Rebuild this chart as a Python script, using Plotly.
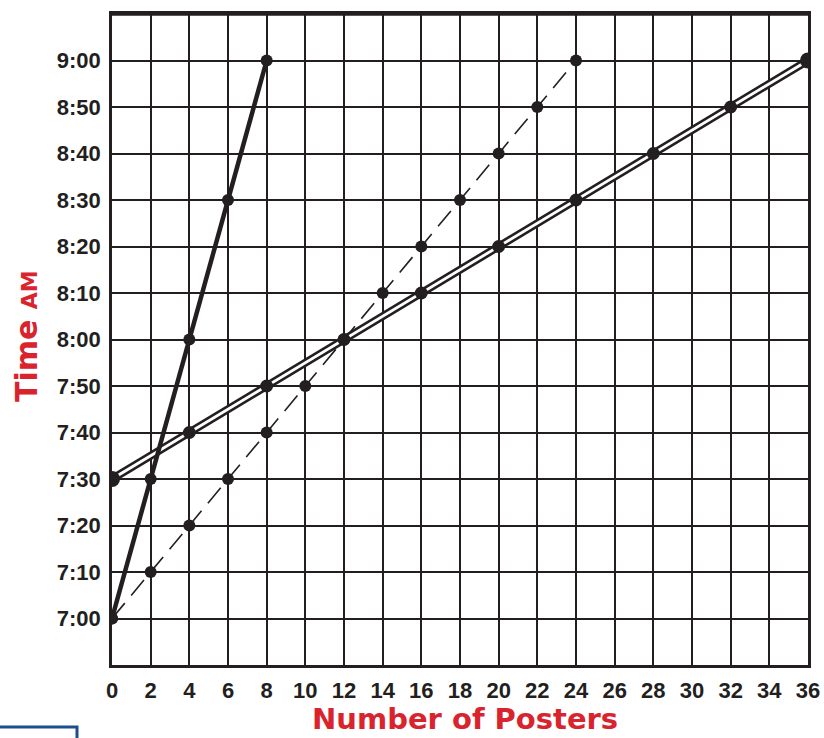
import plotly.graph_objects as go

# Data (y in minutes after 7:00 AM)
solid_x = [0, 2, 4, 6, 8]
solid_y = [0, 30, 60, 90, 120]

dash_x = [0, 2, 4, 6, 8, 10, 12, 14, 16, 18, 20, 22, 24]
dash_y = [0, 10, 20, 30, 40, 50, 60, 70, 80, 90, 100, 110, 120]

double_x = [0, 4, 8, 12, 16, 20, 24, 28, 32, 36]
double_y = [30, 40, 50, 60, 70, 80, 90, 100, 110, 120]

x_ticks = list(range(0, 37, 2))
y_tickvals = [0, 10, 20, 30, 40, 50, 60, 70, 80, 90, 100, 110, 120]
y_ticktext = ["7:00", "7:10", "7:20", "7:30", "7:40", "7:50", "8:00",
              "8:10", "8:20", "8:30", "8:40", "8:50", "9:00"]

INK = "#231f20"
RED = "#d9232d"

L, R, T, B = 112, 16, 14, 73
W, H = 824, 738
PW = W - L - R
PH = H - T - B


def px_x(px):
    return (px - L) / PW


def px_y(py):
    return (H - B - py) / PH


fig = go.Figure()

# dashed line
fig.add_trace(go.Scatter(x=dash_x, y=dash_y, mode="lines+markers",
                         line=dict(color=INK, width=1.6, dash="20px,10px"),
                         marker=dict(color=INK, size=12, line=dict(width=0)), showlegend=False))
# double line: thick black then white core
fig.add_trace(go.Scatter(x=double_x, y=double_y, mode="lines",
                         line=dict(color=INK, width=8), showlegend=False))
fig.add_trace(go.Scatter(x=double_x, y=double_y, mode="lines",
                         line=dict(color="white", width=2.8), showlegend=False))
fig.add_trace(go.Scatter(x=double_x, y=double_y, mode="markers",
                         marker=dict(color=INK, opacity=1, line=dict(width=0),
                                     size=[16, 13, 13, 13, 13, 13, 13, 13, 13, 16]),
                         showlegend=False))
# thick solid line
fig.add_trace(go.Scatter(x=solid_x, y=solid_y, mode="lines+markers",
                         line=dict(color=INK, width=4.5),
                         marker=dict(color=INK, size=12, line=dict(width=0)), showlegend=False))

fig.update_xaxes(range=[0, 36], tickvals=x_ticks, ticktext=[str(v) for v in x_ticks],
                 showgrid=True, gridcolor=INK, gridwidth=2.2, zeroline=False,
                 showline=True, linecolor=INK, linewidth=2.5, mirror=True,
                 tickfont=dict(family="Liberation Sans, Arial, sans-serif", size=22, color=INK, weight="bold"),
                 ticks="", ticklabelstandoff=4, automargin=False)
fig.update_yaxes(range=[-10, 130], tickvals=y_tickvals, ticktext=y_ticktext,
                 showgrid=True, gridcolor=INK, gridwidth=2.2, zeroline=False,
                 showline=True, linecolor=INK, linewidth=2.5, mirror=True,
                 tickfont=dict(family="Liberation Sans, Arial, sans-serif", size=22, color=INK, weight="bold"),
                 ticks="", ticklabelstandoff=4, automargin=False)

fig.add_annotation(text="Number of Posters", xref="paper", yref="paper",
                   x=px_x(465), y=px_y(719), xanchor="center", yanchor="middle",
                   showarrow=False, borderpad=0,
                   font=dict(family="DejaVu Sans, sans-serif", size=29, color=RED, weight="bold"))
fig.add_annotation(text="Time <span style='font-size:22px'>AM</span>", xref="paper", yref="paper",
                   x=px_x(26), y=px_y(336), xanchor="center", yanchor="middle",
                   textangle=-90, showarrow=False,
                   font=dict(family="DejaVu Sans, sans-serif", size=30, color=RED, weight="bold"))

# top border thicker
fig.add_shape(type="line", xref="paper", yref="paper", x0=0, x1=1, y0=1, y1=1,
              line=dict(color=INK, width=3.5))
# blue box fragment at bottom left
fig.add_shape(type="rect", xref="paper", yref="paper",
              x0=px_x(-5), x1=px_x(77), y0=px_y(760), y1=px_y(727),
              line=dict(color="#1f4e8c", width=3), fillcolor="rgba(0,0,0,0)")

fig.update_layout(width=W, height=H, margin=dict(l=L, r=R, t=T, b=B),
                  plot_bgcolor="white", paper_bgcolor="white")

fig.write_html("out.html", config={"displayModeBar": False},
               post_script="document.body.style.margin='0';document.body.style.overflow='hidden';")
